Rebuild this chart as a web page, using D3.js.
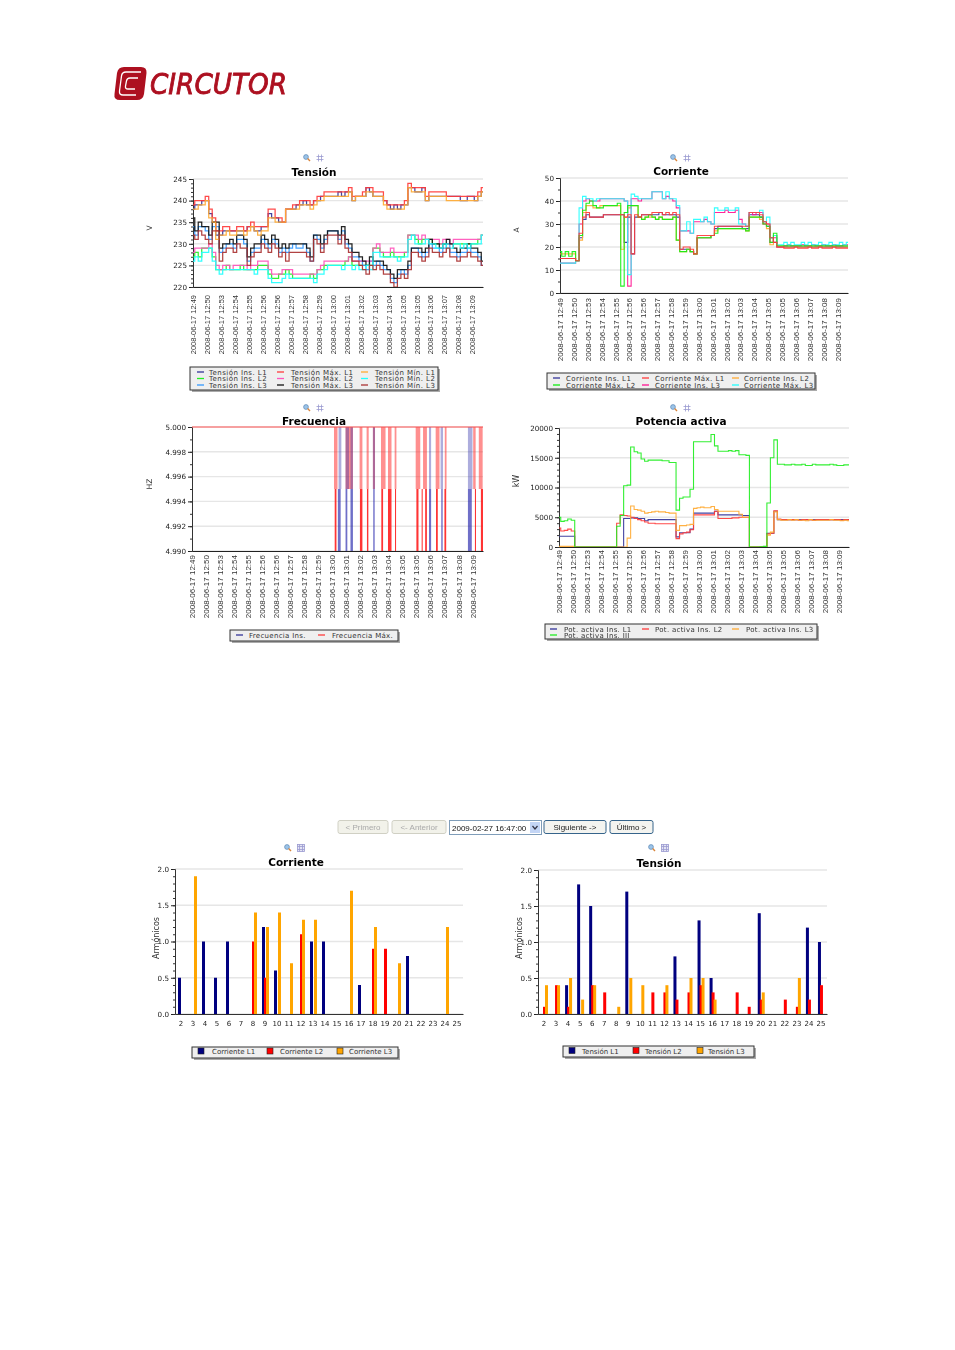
<!DOCTYPE html>
<html><head><meta charset="utf-8">
<script src="https://cdn.jsdelivr.net/npm/d3@7"></script>
<style>html,body{margin:0;padding:0;background:#fff}svg{display:block;filter:blur(.35px)}text{font-family:"DejaVu Sans",sans-serif}</style>
</head><body><svg id="c" width="955" height="1350"></svg>
<script>
const timeLabels=["12:49","12:50","12:53","12:54","12:55","12:56","12:56","12:57","12:58","12:59","13:00","13:01","13:02","13:03","13:04","13:05","13:05","13:06","13:07","13:08","13:09"].map(t=>"2008-06-17 "+t);

// Tensión (V)
const tensionInsL1=[238,239,239,240,240,237,235,232,232,233,233,233,233,233,233,233,234,234,233,233,234,234,237,236,236,235,235,238,238,238,239,239,240,239,239,240,240,241,241,241,241,241,242,241,242,242,240,241,241,241,243,242,241,241,241,240,239,238,239,238,239,239,243,243,242,242,243,240,241,241,241,241,241,241,241,241,241,240,240,241,241,240,241,242];
const tensionMaxL1=[239,240,240,240,241,238,236,233,233,234,234,233,233,234,234,233,234,235,234,234,234,234,238,238,236,236,235,238,238,239,239,240,240,240,239,240,241,241,242,242,242,242,242,242,242,243,241,241,241,242,243,243,242,242,242,240,239,239,239,239,239,240,244,243,243,243,243,241,242,242,242,242,242,241,241,241,241,241,241,241,241,241,242,243];
const tensionMinL1=[238,238,239,239,240,236,235,231,232,232,233,232,232,233,233,232,233,234,233,232,233,233,236,236,235,235,235,238,238,238,238,239,239,239,238,239,240,240,241,241,241,241,241,241,241,242,240,241,241,241,242,242,241,241,241,239,238,238,238,238,238,239,243,242,242,242,242,240,241,241,241,241,241,240,240,240,240,240,240,240,240,240,241,242];
const tensionInsL2=[227,228,227,229,229,229,227,224,224,224,225,224,224,224,225,224,224,224,224,225,225,225,223,222,222,223,223,224,223,222,222,222,222,222,223,222,224,224,225,225,225,225,225,225,226,227,225,225,225,225,225,225,229,229,228,227,227,228,227,227,227,228,232,232,231,230,231,231,231,230,230,230,230,230,230,230,230,230,230,230,230,230,231,232];
const tensionMaxL2=[228,229,229,229,229,230,228,225,224,225,225,224,225,225,225,225,224,225,225,226,226,226,224,223,223,223,224,224,224,223,223,223,223,223,223,223,224,225,226,226,226,226,226,226,226,227,226,226,226,226,226,226,229,230,228,228,228,229,228,228,228,228,232,232,232,231,232,231,231,231,231,230,231,231,230,231,231,231,231,231,231,231,231,232];
const tensionMinL2=[226,227,226,228,228,229,226,224,223,224,224,224,224,224,224,224,224,224,223,224,224,224,222,221,221,221,222,223,222,222,222,222,222,222,222,221,223,223,224,225,225,225,225,224,225,225,224,225,224,224,225,224,228,228,227,227,227,227,227,226,227,227,231,232,230,230,230,231,230,230,229,229,230,229,229,230,230,229,230,229,230,230,230,232];
const tensionInsL3=[234,232,234,234,233,231,234,234,228,229,230,230,229,231,231,230,226,228,229,229,231,230,229,231,230,228,229,228,229,230,229,229,230,228,226,232,231,229,231,233,233,233,231,233,230,229,227,227,226,225,224,226,225,226,225,224,224,222,221,223,224,223,225,229,229,228,227,228,230,229,229,228,229,230,228,228,227,228,228,229,228,228,227,225];
const tensionMaxL3=[236,233,235,234,234,232,235,235,229,230,230,231,230,232,232,231,227,229,230,230,232,231,230,232,231,229,230,229,230,230,230,230,230,229,227,232,232,230,232,233,233,233,232,234,231,230,228,228,227,226,225,227,226,226,226,225,224,223,222,224,224,224,226,229,229,229,228,229,231,230,230,229,230,231,230,229,228,229,229,230,229,229,228,226];
const tensionMinL3=[232,231,233,232,231,230,233,233,226,228,229,229,228,230,229,229,225,227,228,228,230,229,228,230,229,227,228,226,228,228,228,228,228,227,226,231,230,228,230,232,232,232,230,232,229,228,226,226,225,224,223,225,224,225,224,223,223,221,220,222,223,222,224,228,228,227,226,227,229,228,228,227,228,229,227,227,226,227,227,228,227,227,226,225];

// Corriente (A)
const corrienteInsL1=[15,15,15,15,15,14,24,32,34,33,33,33,33,34,34,34,34,34,34,22,33,17,33,33,34,34,34,34,34,35,34,34,34,34,33,19,19,19,18,17,24,24,24,24,25,28,29,29,29,29,29,29,29,28,28,34,34,34,33,31,29,24,22,20,20,20,20,20,20,20,20,20,20,20,20,20,20,20,20,20,20,20,20,20];
const corrienteMaxL1=[15,15,15,15,15,14,26,33,35,33,33,33,33,34,34,34,34,34,34,33,34,17,34,33,34,34,34,35,35,35,34,35,34,35,34,19,20,20,19,17,25,25,25,25,25,29,29,29,29,29,29,29,29,29,29,35,35,35,34,31,30,24,22,20,20,19.5,19.5,19.5,20,19.5,19.5,19.5,20,19.5,19.5,20,19.5,19.5,19.5,20,19.5,19.5,19.5,19.5];
const corrienteInsL2=[17,17,17,17,17,14,23,35,38,38,37,37,38,38,38,38,38,38,19,33,37,38,38,33,32,33,33,33,32,33,32,32,32,33,23,18,18,19,18,17,24,24,24,24,25,27,28,28,28,28,28,28,28,28,27,33,33,33,32,30,28,21,25,20,20,20,20,20,20,20,20,20,20,20,20,20,20,20,20,20,20,20,20,20];
const corrienteMaxL2=[18,16,18,16,18,14,25,36,39,40,38,37,37,38,38,38,38,39,3,35,38,38,38,33,32,33,34,33,32,33,32,32,32,33,23,18,18,19,18,17,24,24,24,24,25,26,28,28,28,28,28,28,28,28,27,33,33,33,33,30,29,22,26,20.500,20.500,20.500,20.500,20.500,20.500,20.500,20.500,20.500,20.500,20.500,20.500,20.500,20.500,20.500,20.500,20.500,20.500,20.500,20.500,20.500];
const corrienteInsL3=[13,13,13,13,13,14,30,40,41,40,40,40,41,41,41,41,41,41,41,40,3,41,41,40,41,41,41,44,44,44,41,42,41,40,37,27,27,27,26,31,31,31,32,31,30,35,35,35,36,35,35,36,32,30,29,35,34,35,35,30,30,22,24,20,20,20.500,21,20.500,20.500,20.500,21,20.500,20.500,21,20.500,20.500,21,20.500,20.500,21,20.500,20.500,21,21];
const corrienteMaxL3=[13,13,13,13,13,14,37,42,41,41,40,41,41,41,41,41,41,41,41,40,8,43,42,41,41,41,41,44,44,44,41,44,41,41,38,27,27,31,26,32,32,31,33,31,30,37,36,36,37,36,36,37,30,30,29,35,35,35,36,31,33,24,25,21,21,22,21,22,21,21,22,21,22,21,21,22,21,21,22,21,21,22,21,22];

// Frecuencia (Hz): intervals on the time index where the signal leaves 5.000
const frecuenciaSpan=[4.99,5];
const frecuenciaMaxUpper=[[40.5,41.5],[43.8,45.9],[47.8,48.6],[49.8,50.4],[51.6,52.2],[53.9,55.2],[55.9,56.9],[57.8,58.3],[63.8,65.1],[65.9,67],[69.5,70.6],[72.1,72.6],[80.2,80.9],[81.8,82.9]];
const frecuenciaMaxLower=[[40.7,41.2],[47.9,48.6],[49.9,50.3],[54,54.5],[55.9,56.9],[57.9,58.2],[64,64.6],[65.5,65.8],[66.5,67],[69.6,70.1],[72,72.5],[80.7,81],[82.4,83]];
const frecuenciaInsUpper=[[41.8,42.6],[43.8,44.8],[45.2,45.9],[51.6,52.2],[67.6,68.2],[70.9,71.6],[78.7,80]];
const frecuenciaInsLower=[[41.6,42.4],[43.8,44.3],[45.2,45.9],[51.7,52.1],[67.6,68.2],[71.1,71.5],[78.7,79.8]];

// Potencia activa (kW)
const potenciaL1=[1800,1800,1800,1800,1800,0,0,0,0,0,0,0,0,0,0,0,0,0,0,4800,4800,4900,4900,4800,4800,4400,4600,4600,4600,4600,4600,4600,4600,4600,1700,2400,2400,2400,3000,5700,5700,5700,5700,5700,5700,6000,5400,5400,5400,5400,5400,5400,5400,5300,5300,0,0,0,0,0,2300,2300,6000,4600,4600,4600,4600,4600,4600,4600,4600,4600,4600,4600,4600,4600,4600,4600,4600,4600,4600,4600,4600,4600];
const potenciaL2=[3200,2700,2800,3000,2700,0,0,0,0,0,0,0,0,0,0,0,0,4000,5400,5300,5200,5000,4800,4600,4400,4200,4000,4000,3900,3900,3900,3900,3900,3900,1400,2200,2400,2500,2900,5400,5400,5400,5400,5400,5400,6000,4800,4800,4800,4800,4900,4900,5000,5000,5000,0,0,0,0,0,2200,2300,6100,4700,4600,4600,4600,4600,4600,4500,4600,4600,4600,4500,4600,4600,4600,4600,4600,4600,4600,4500,4600,4600];
const potenciaL3=[100,100,100,100,100,0,0,0,0,0,0,0,0,0,0,0,0,0,0,0,1500,6900,6300,6200,6000,5700,5800,5900,6000,5900,5900,5800,5700,5700,2800,3600,3600,3700,3800,6500,6600,6700,6600,6600,6800,6300,6000,6000,6000,6000,6000,6000,5500,5000,5000,0,0,0,0,0,2000,2500,5900,4600,4500,4500,4600,4500,4600,4500,4500,4400,4600,4500,4500,4500,4500,4500,4600,4500,4500,4400,4500,4400];
const potenciaIII=[5000,4300,4400,4700,4500,0,0,0,0,0,0,0,0,0,0,0,0,3500,5300,10300,10400,16800,16000,15800,14800,14400,14600,14600,14600,14600,14500,14500,14200,14200,6200,8200,8400,8400,9700,17700,17700,17700,17700,17700,18900,17000,16100,16100,16100,16200,16100,16200,15500,15500,15400,0,0,0,50,100,7400,15000,18000,13900,13900,13800,13800,13900,13800,13800,13900,13700,13700,13900,13800,13800,13800,13800,13900,13800,13700,13700,13800,13800];

// Armónicos
const armonicos=d3.range(2,26);
const corrienteL1={2:.5,4:1,5:.5,6:1,9:1.2,10:.6,13:1,14:1,17:.4,21:.8};
const corrienteL2={8:1,9:.5,12:1.1,18:.9,19:.9};
const corrienteL3={3:1.9,8:1.4,9:1.2,10:1.4,11:.7,12:1.3,13:1.3,16:1.7,18:1.2,20:.7,24:1.2};
const tensionL1={4:.4,5:1.8,6:1.5,9:1.7,13:.8,15:1.3,16:.5,20:1.4,24:1.2,25:1};
const tensionL2={2:.1,3:.4,4:.1,6:.4,7:.3,11:.3,12:.3,13:.2,14:.3,15:.4,16:.3,18:.3,19:.1,20:.2,22:.2,23:.1,24:.2,25:.4};
const tensionL3={2:.4,3:.4,4:.5,5:.2,6:.4,8:.1,9:.5,10:.4,12:.4,14:.5,15:.5,16:.2,20:.3,23:.5};

const C={navy:"#333399",blue:"#3399ff",green:"#22ee22",red:"#ff3b3b",pink:"#ff55bb",black:"#111",orange:"#ffaa33",cyan:"#22ffff",brown:"#aa3333",hot:"#ff1493",bnavy:"#00007f",bred:"#ff0000",bor:"#ffa500"};
const svg=d3.select("#c");

function frame(o){
  const g=svg.append("g");
  const y=d3.scaleLinear().domain(o.yDomain).range([o.b,o.t]);
  g.append("g").selectAll("line").data(o.yMajor).join("line").attr("x1",o.l).attr("x2",o.r)
    .attr("y1",d=>y(d)).attr("y2",d=>y(d)).attr("stroke","#e6e6e6").attr("stroke-width",1.4);
  const ax=g.append("g").attr("transform",`translate(${o.l},0)`).call(d3.axisLeft(y).tickValues(o.yMajor).tickFormat(o.yFmt).tickSize(4).tickPadding(2));
  ax.selectAll("text").attr("font-size",7.2).attr("fill","#222").style("font-family","'DejaVu Sans'");
  ax.select(".domain").attr("stroke","#333");ax.selectAll(".tick line").attr("stroke","#222");
  g.append("g").attr("transform",`translate(${o.l},0)`).call(d3.axisLeft(y).tickValues(o.yMinor).tickFormat("").tickSize(2)).call(s=>s.select(".domain").remove()).selectAll("line").attr("stroke","#333");
  g.append("text").text(o.title).attr("x",o.tx).attr("y",o.ty).attr("text-anchor","middle").attr("font-size",10.5).attr("font-weight","bold").attr("fill","#000");
  g.append("text").text(o.yTitle).attr("transform",`translate(${o.ytx},${o.yty}) rotate(-90)`).attr("text-anchor","middle").attr("font-size",o.ytSize||7.5).attr("fill","#333");
  return {g,y};
}
function timeAxis(g,x,o){
  const ticks=timeLabels.map((_,i)=>i*4);
  const a=g.append("g").attr("transform",`translate(0,${o.b})`).call(d3.axisBottom(x).tickValues(ticks).tickFormat(d=>timeLabels[d/4]).tickSize(0));
  a.select(".domain").attr("stroke","#222").attr("stroke-width",1.2);
  a.selectAll("text").attr("transform",`translate(0,0) rotate(-90)`).attr("x",-o.lab).attr("y",0).attr("dy","0.32em").attr("text-anchor","end")
    .attr("font-size",o.labSize).attr("fill","#333").style("font-family","'Liberation Sans'");
}
function lineChart(o){
  const {g,y}=frame(o);
  const x=d3.scaleLinear().domain([0,83]).range([o.l,o.r]);
  const line=d3.line().curve(d3.curveStep).x((d,i)=>x(i)).y(d=>y(d));
  o.series.forEach(s=>g.append("path").datum(s.v).attr("d",line).attr("fill","none").attr("stroke",s.c).attr("stroke-width",o.sw||1.1).attr("stroke-opacity",.92));
  timeAxis(g,x,o);
  return {g,x,y};
}
function legend(o){
  const g=svg.append("g");
  g.append("rect").attr("x",o.x0+2).attr("y",o.y0+2).attr("width",o.x1-o.x0).attr("height",o.y1-o.y0).attr("fill","#aaa");
  g.append("rect").attr("x",o.x0).attr("y",o.y0).attr("width",o.x1-o.x0).attr("height",o.y1-o.y0).attr("fill","#efefef").attr("stroke","#333");
  o.items.forEach(it=>{
    if(o.square){
      g.append("rect").attr("x",it.sx).attr("y",it.y-3.5).attr("width",6).attr("height",6).attr("fill",it.c).attr("stroke","#222").attr("stroke-width",.6);
    }else{
      g.append("line").attr("x1",it.sx).attr("x2",it.sx+7).attr("y1",it.y).attr("y2",it.y).attr("stroke",it.c).attr("stroke-width",1.3);
    }
    g.append("text").text(it.t).attr("x",it.tx).attr("y",it.y+2.5).attr("font-size",7).attr("letter-spacing",o.ls===undefined?.45:o.ls).attr("fill","#333");
  });
}
function icons(x,y,square){
  const g=svg.append("g").attr("transform",`translate(${x},${y})`);
  g.append("circle").attr("cx",-1).attr("cy",-1).attr("r",2.4).attr("fill","#9cc4e8").attr("stroke","#5b87b5").attr("stroke-width",.7);
  g.append("line").attr("x1",.6).attr("y1",.6).attr("x2",3).attr("y2",3).attr("stroke","#d9853b").attr("stroke-width",1.4);
  const h=g.append("g").attr("transform","translate(13,0)").attr("stroke","#9a9ad0").attr("stroke-width",.8).attr("fill",square?"#e4e4f4":"none");
  if(square)h.append("rect").attr("x",-3.5).attr("y",-3.5).attr("width",7).attr("height",7);
  [-1.5,1.5].forEach(d=>{h.append("line").attr("x1",-3.5).attr("x2",3.5).attr("y1",d).attr("y2",d);h.append("line").attr("x1",d).attr("x2",d).attr("y1",-3.5).attr("y2",3.5);});
}
function barChart(o){
  const {g,y}=frame(o);
  const x=d3.scaleBand().domain(armonicos).range([o.l,o.r]);
  const off=d3.scalePoint().domain([0,1,2]).range([3,7]);
  o.series.forEach((s,k)=>{
    g.append("g").selectAll("rect").data(Object.entries(s.v)).join("rect")
      .attr("x",d=>x(+d[0])+off(k)).attr("width",3).attr("y",d=>y(d[1])).attr("height",d=>y(0)-y(d[1])).attr("fill",s.c);
  });
  const a=g.append("g").attr("transform",`translate(0,${o.b})`).call(d3.axisBottom(x).tickSize(0).tickPadding(7));
  a.select(".domain").attr("stroke","#333");
  a.selectAll("text").attr("font-size",7).attr("fill","#222").style("font-family","'DejaVu Sans'");
}

// logo
(function(){
  const g=svg.append("g");
  g.append("path").attr("d","M124 67 L141 67 Q147 67 146.500 73 L144 94 Q143 100 137 100 L120 100 Q113.500 100 114.500 94 L117 73 Q118 67 124 67 Z").attr("fill","#ad1020");
  g.append("path").attr("d","M141 72 L126 72 Q122 72 121.500 76 L119.500 91 Q119 95 123 95 L136 95").attr("fill","none").attr("stroke","#fff").attr("stroke-width",1.3);
  g.append("path").attr("d","M138 78 L130 78 Q127 78 126.500 81 L125.500 86 Q125 89 128 89 L135 89").attr("fill","none").attr("stroke","#fff").attr("stroke-width",1.3);
  g.append("text").text("CIRCUTOR").attr("x",150).attr("y",94).attr("font-size",29).attr("font-style","italic").attr("fill","#ad1020").attr("stroke","#ad1020").attr("stroke-width",.9).attr("textLength",137).attr("lengthAdjust","spacingAndGlyphs").style("font-family","'DejaVu Sans'");
})();

icons(307,158);icons(674,158);icons(307,408);icons(674,408);icons(288,848,true);icons(652,848,true);

// Tensión
lineChart({l:193,r:483,t:179,b:287,yDomain:[220,245],yMajor:[220,225,230,235,240,245],yMinor:d3.range(220,246),yFmt:d3.format("d"),
  title:"Tensión",tx:314,ty:176,yTitle:"V",ytx:152,yty:228,lab:8,labSize:7.5,sw:1.25,
  series:[{v:tensionInsL1,c:C.navy},{v:tensionInsL2,c:C.green},{v:tensionInsL3,c:C.blue},{v:tensionMaxL1,c:C.red},{v:tensionMaxL2,c:C.pink},{v:tensionMaxL3,c:C.black},{v:tensionMinL1,c:C.orange},{v:tensionMinL2,c:C.cyan},{v:tensionMinL3,c:C.brown}]});
legend({x0:190,x1:438,y0:367,y1:390,items:[
 {t:"Tensión Ins. L1",c:C.navy,sx:197,tx:209,y:372},{t:"Tensión Ins. L2",c:C.green,sx:197,tx:209,y:378.500},{t:"Tensión Ins. L3",c:C.blue,sx:197,tx:209,y:385},
 {t:"Tensión Máx. L1",c:C.red,sx:277,tx:291,y:372},{t:"Tensión Máx. L2",c:C.pink,sx:277,tx:291,y:378.500},{t:"Tensión Máx. L3",c:C.black,sx:277,tx:291,y:385},
 {t:"Tensión Mín. L1",c:C.orange,sx:361,tx:375,y:372},{t:"Tensión Mín. L2",c:C.cyan,sx:361,tx:375,y:378.500},{t:"Tensión Mín. L3",c:C.brown,sx:361,tx:375,y:385}]});

// Corriente (line)
lineChart({l:560,r:848,t:178,b:293,yDomain:[0,50],yMajor:[0,10,20,30,40,50],yMinor:d3.range(0,51,5),yFmt:d3.format("d"),
  title:"Corriente",tx:681,ty:175,yTitle:"A",ytx:519,yty:230,lab:5,labSize:8,
  series:[{v:corrienteInsL1,c:C.navy},{v:corrienteInsL2,c:C.orange},{v:corrienteInsL3,c:C.hot},{v:corrienteMaxL3,c:C.cyan},{v:corrienteMaxL2,c:"#11ee11"},{v:corrienteMaxL1,c:C.red}]});
legend({x0:547,x1:815,y0:373,y1:389,items:[
 {t:"Corriente Ins. L1",c:C.navy,sx:553,tx:566,y:378},{t:"Corriente Máx. L2",c:"#11ee11",sx:553,tx:566,y:385},
 {t:"Corriente Máx. L1",c:C.red,sx:642,tx:655,y:378},{t:"Corriente Ins. L3",c:C.hot,sx:642,tx:655,y:385},
 {t:"Corriente Ins. L2",c:C.orange,sx:732,tx:744,y:378},{t:"Corriente Máx. L3",c:C.cyan,sx:732,tx:744,y:385}]});

// Frecuencia
(function(){
  const o={l:192,r:483,t:427,b:551,yDomain:frecuenciaSpan,yMajor:[4.99,4.992,4.994,4.996,4.998,5],yMinor:d3.range(4.99,5.0005,.001),yFmt:d3.format(".3f"),
    title:"Frecuencia",tx:314,ty:425,yTitle:"HZ",ytx:152,yty:484,lab:4,labSize:8};
  const {g,y}=frame(o);
  const x=d3.scaleLinear().domain([0,83]).range([o.l,o.r]);
  const band=(a,lo,hi,c,op)=>g.append("g").selectAll("rect").data(a).join("rect").attr("x",d=>x(d[0])).attr("width",d=>x(d[1])-x(d[0]))
    .attr("y",y(hi)).attr("height",y(lo)-y(hi)).attr("fill",c).attr("fill-opacity",op);
  band(frecuenciaMaxUpper,4.995,5,"#ff2020",.5);band(frecuenciaMaxLower,4.99,4.995,"#ff1010",.85);
  band(frecuenciaInsUpper,4.995,5,"#3333aa",.4);band(frecuenciaInsLower,4.99,4.995,"#2222aa",.65);
  g.append("path").datum([0,83]).attr("d",d3.line().x(d=>x(d)).y(y(5))).attr("stroke","#ff5555").attr("stroke-width",1.2).attr("fill","none");
  timeAxis(g,x,o);
})();
legend({x0:230,x1:398,y0:630,y1:641,ls:.3,items:[{t:"Frecuencia Ins.",c:C.navy,sx:236,tx:249,y:635},{t:"Frecuencia Máx.",c:C.red,sx:318,tx:332,y:635}]});

// Potencia
lineChart({l:559,r:849,t:428,b:547,yDomain:[0,20000],yMajor:[0,5000,10000,15000,20000],yMinor:d3.range(0,20001,1000),yFmt:d3.format("d"),
  title:"Potencia activa",tx:681,ty:425,yTitle:"kW",ytx:519,yty:481,ytSize:8,lab:3,labSize:8,
  series:[{v:potenciaL1,c:C.navy},{v:potenciaL2,c:C.red},{v:potenciaL3,c:C.orange},{v:potenciaIII,c:"#22ee22"}]});
legend({x0:545,x1:817,y0:624,y1:639,ls:.3,items:[
 {t:"Pot. activa Ins. L1",c:C.navy,sx:550,tx:564,y:629},{t:"Pot. activa Ins. III",c:"#22ee22",sx:550,tx:564,y:635},
 {t:"Pot. activa Ins. L2",c:C.red,sx:642,tx:655,y:629},{t:"Pot. activa Ins. L3",c:C.orange,sx:732,tx:746,y:629}]});

// Botones
const botones=[["< Primero",338,388,0],["<- Anterior",392,446,0],["Siguiente ->",544,606,1],["Último >",610,653,1]];
botones.forEach(b=>{
  svg.append("rect").attr("x",b[1]).attr("y",820.5).attr("width",b[2]-b[1]).attr("height",13).attr("rx",2).attr("fill",b[3]?"#f4f4f0":"#f2f2ea").attr("stroke",b[3]?"#36648b":"#d0d0c4");
  svg.append("text").text(b[0]).attr("x",(b[1]+b[2])/2).attr("y",830).attr("text-anchor","middle").attr("font-size",8).attr("fill",b[3]?"#222":"#aaa").style("font-family","'Liberation Sans'");
});
svg.append("rect").attr("x",449.500).attr("y",820.500).attr("width",92).attr("height",14).attr("fill","#fff").attr("stroke","#7f9db9");
svg.append("rect").attr("x",530).attr("y",822).attr("width",10).attr("height",11).attr("fill","#c3d5f5");
svg.append("path").attr("d","M532.500 826 L535 829 L537.500 826").attr("fill","none").attr("stroke","#334").attr("stroke-width",1.2);
svg.append("text").text("2009-02-27 16:47:00").attr("x",452).attr("y",831).attr("font-size",8).attr("fill","#111").style("font-family","'Liberation Sans'");

// Armónicos
barChart({l:175,r:463,t:869,b:1014,yDomain:[0,2],yMajor:[0,.5,1,1.5,2],yMinor:d3.range(0,2.01,.1),yFmt:d3.format(".1f"),
  title:"Corriente",tx:296,ty:866,yTitle:"Armónicos",ytx:159,yty:938,ytSize:8,
  series:[{v:corrienteL1,c:C.bnavy},{v:corrienteL2,c:C.bred},{v:corrienteL3,c:C.bor}]});
legend({x0:192,x1:398,y0:1047,y1:1058,square:true,ls:0,items:[{t:"Corriente L1",c:C.bnavy,sx:198,tx:212,y:1051.500},{t:"Corriente L2",c:C.bred,sx:267,tx:280,y:1051.500},{t:"Corriente L3",c:C.bor,sx:337,tx:349,y:1051.500}]});
barChart({l:538,r:827,t:870,b:1014,yDomain:[0,2],yMajor:[0,.5,1,1.5,2],yMinor:d3.range(0,2.01,.1),yFmt:d3.format(".1f"),
  title:"Tensión",tx:659,ty:867,yTitle:"Armónicos",ytx:522,yty:938,ytSize:8,
  series:[{v:tensionL1,c:C.bnavy},{v:tensionL2,c:C.bred},{v:tensionL3,c:C.bor}]});
legend({x0:563,x1:754,y0:1046,y1:1057,square:true,ls:0,items:[{t:"Tensión L1",c:C.bnavy,sx:569,tx:582,y:1051},{t:"Tensión L2",c:C.bred,sx:633,tx:645,y:1051},{t:"Tensión L3",c:C.bor,sx:697,tx:708,y:1051}]});
</script></body></html>
